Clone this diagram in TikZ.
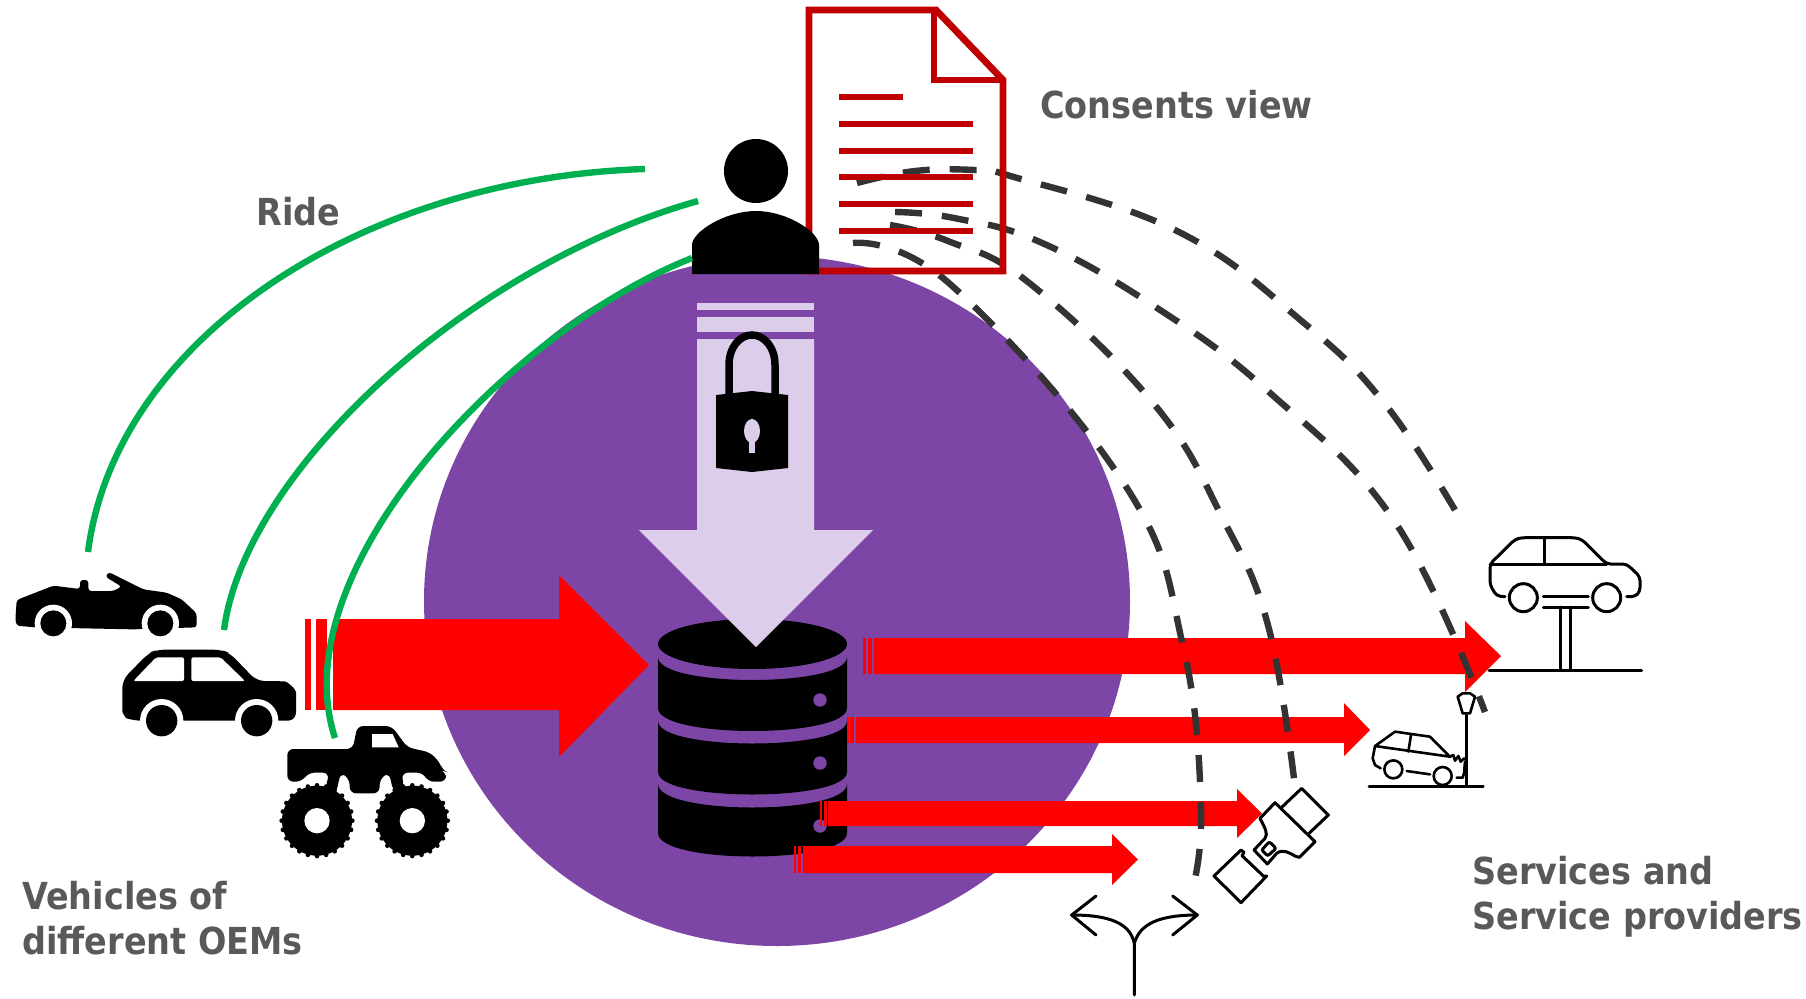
\documentclass[tikz,border=0pt]{standalone}
\usepackage{fontspec}
\setmainfont{DejaVu Sans Condensed}
\definecolor{cpurple}{HTML}{7D46A6}
\definecolor{clilac}{HTML}{DCCEEA}
\definecolor{cgreen}{HTML}{00B050}
\definecolor{cdoc}{HTML}{C00000}
\definecolor{cdash}{HTML}{333333}
\definecolor{ctext}{HTML}{595959}
\tikzset{
  greenarc/.style={draw=cgreen,line width=3.2pt},
  dasharc/.style={draw=cdash,line width=3.2pt,dash pattern=on 13.5pt off 10pt},
  docline/.style={draw=cdoc,line width=3.4pt},
  redshape/.style={fill=red,draw=none},
  lilacshape/.style={fill=clilac,draw=none},
  thinicon/.style={draw=black,line width=1.5pt,line join=round,line cap=round},
  zoomunits/.style={x=0.16667pt,y=-0.16667pt},
  label/.style={text=ctext,font=\fontsize{18.6}{22.5}\selectfont\bfseries,anchor=west,align=left,inner sep=0pt}
}
\newcommand{\dbseg}[3]{\fill[black] (658,#1) .. controls (658,#1+#3*1.333) and (847,#1+#3*1.333) .. (847,#1) -- (847,#2) .. controls (847,#2+#3*1.333) and (658,#2+#3*1.333) .. (658,#2) -- cycle;}
\begin{document}
\begin{tikzpicture}[x=0.5pt,y=-0.5pt]
\useasboundingbox (0,0) rectangle (1806,998);
% big circle
\fill[cpurple] (777,601) ellipse [x radius=353,y radius=345];

% database
\fill[black] (752.5,644) ellipse [x radius=94.5,y radius=25];
\dbseg{657}{708}{23}
\dbseg{721}{772}{22.5}
\dbseg{784}{833}{23.5}
\foreach \yy in {700,763,826} \fill[cpurple] (820,\yy) circle (6.7);

% lilac arrow
\fill[lilacshape] (697,303) rectangle (814,310);
\fill[lilacshape] (697,317) rectangle (814,332);
\fill[lilacshape] (697,339) -- (814,339) -- (814,530) -- (873,530) -- (756,647) -- (639,530) -- (697,530) -- cycle;

% lock
\draw[black,line width=3.75pt] (729,397) -- (729,365) .. controls (729,347) and (740,335) .. (752,335) .. controls (764,335) and (775,347) .. (775,365) -- (775,397);
\fill[black] (716,395) -- (752,391) -- (788,395) -- (788,468) -- (752,472) -- (716,468) -- cycle;
\fill[clilac] (752,431) ellipse [x radius=8,y radius=12];
\fill[clilac] (749,435) rectangle (755,453);

% red arrows
\fill[redshape] (305,619) rectangle (311,710);
\fill[redshape] (316,619) rectangle (327,710);
\fill[redshape] (333,619) -- (559,619) -- (559,575) -- (649,665) -- (559,757) -- (559,710) -- (333,710) -- cycle;

\fill[redshape] (863,638) rectangle (866,674);
\fill[redshape] (868,638) rectangle (872,674);
\fill[redshape] (874,638) -- (1465,638) -- (1465,621) -- (1501,656) -- (1465,692) -- (1465,674) -- (874,674) -- cycle;

\fill[redshape] (847,717) rectangle (849,743);
\fill[redshape] (850,717) rectangle (854,743);
\fill[redshape] (856,717) -- (1344,717) -- (1344,703) -- (1370,730) -- (1344,756) -- (1344,743) -- (856,743) -- cycle;

\fill[redshape] (820,801) rectangle (822,826);
\fill[redshape] (824,801) rectangle (827,826);
\fill[redshape] (828,801) -- (1237,801) -- (1237,789) -- (1262,813.5) -- (1237,838) -- (1237,826) -- (828,826) -- cycle;

\fill[redshape] (794,846) rectangle (796,873);
\fill[redshape] (798,846) rectangle (801,873);
\fill[redshape] (803,846) -- (1112,846) -- (1112,834) -- (1138,859.5) -- (1112,885) -- (1112,873) -- (803,873) -- cycle;

% dashed arcs
\draw[dasharc] plot[smooth,tension=0.7] coordinates {(857,183) (915,171) (975,170) (1007,175) (1177,231) (1304,323) (1385,404) (1455,510)};
\draw[dasharc] plot[smooth,tension=0.7] coordinates {(895,212) (954,218) (1040,242) (1154,306) (1269,392) (1395,522) (1485,712)};
\draw[dasharc] plot[smooth,tension=0.7] coordinates {(890,225) (948,241) (1028,282) (1154,404) (1223,519) (1269,629) (1296,795)};
\draw[dasharc] plot[smooth,tension=0.7] coordinates {(853,243) (950,284) (1125,485) (1183,646) (1201,810) (1191,895)};

% document
\draw[cdoc,line width=3.4pt,miter limit=10] (809,271) -- (809,10) -- (936,10) -- (1003,80) -- (1003,271) -- cycle;
\draw[cdoc,line width=3.4pt] (934,12) -- (934,80) -- (1003,80);
\draw[docline] (839,97) -- (903,97);
\foreach \yy in {124,151,177,204,231} \draw[docline] (839,\yy) -- (973,\yy);

% person
\fill[black] (756,171) circle (32);
\fill[black] (692,274) -- (692,245) .. controls (692,232) and (725,211) .. (756,211) .. controls (787,211) and (819,232) .. (819,245) -- (819,274) -- cycle;

% green arcs
\draw[greenarc] (645,169) .. controls (360,178) and (115,340) .. (88,552);
\draw[greenarc] (698,201) .. controls (470,265) and (245,470) .. (224,630);
\draw[greenarc] (692,258) .. controls (510,330) and (280,570) .. (335,738);

% convertible
\begin{scope}[shift={(0,520)},zoomunits]
\fill[black,rounded corners=1.5pt] (50,240) -- (160,197) -- (240,207) -- (240,180) -- (265,180) -- (265,213) -- (340,213) -- (365,200) -- (316,170) -- (326,156) -- (430,208) -- (500,218) -- (545,238) -- (590,280) -- (590,322) -- (400,328) -- (105,322) -- (50,317) -- (46,300) -- cycle;
\fill[white] (160,310) circle (56);
\fill[white] (481,310) circle (56);
\fill[white] (100,328) rectangle (220,350);
\fill[white] (420,328) rectangle (545,350);
\fill[black] (160,310) circle (39);
\fill[black] (481,310) circle (39);
\end{scope}

% sedan
\begin{scope}[shift={(0,520)},zoomunits]
\fill[black,rounded corners=4pt] (367,480) -- (445,400) -- (470,389) -- (665,389) -- (690,400) -- (770,483) -- (830,483) .. controls (865,485) and (888,510) .. (888,540) -- (888,602) -- (400,602) .. controls (380,595) and (367,580) .. (367,550) -- cycle;
\fill[white] (485,602) circle (65);
\fill[white] (770,602) circle (65);
\fill[white] (400,602) rectangle (860,660);
\fill[black] (485,602) circle (47);
\fill[black] (770,602) circle (47);
\fill[white,rounded corners=1pt] (400,483) -- (468,412) -- (552,412) -- (552,483) -- cycle;
\fill[white,rounded corners=1pt] (574,412) -- (662,412) -- (735,483) -- (574,483) -- cycle;
\end{scope}

% monster truck
\begin{scope}[shift={(0,520)},zoomunits]
\fill[black,rounded corners=3pt] (862,687) -- (1058,687) -- (1072,618) -- (1175,618) -- (1222,682) -- (1290,697) -- (1322,730) -- (1326,752) -- (1338,755) -- (1338,785) -- (1283,785) -- (1270,758) -- (1205,758) -- (1212,805) -- (1180,815) -- (1167,758) -- (1140,775) -- (1138,820) -- (1050,820) -- (1048,775) -- (1022,758) -- (1008,820) -- (975,815) -- (987,758) -- (925,758) -- (905,785) -- (862,785) -- cycle;
\fill[white] (1116,642) -- (1178,642) -- (1196,682) -- (1116,682) -- cycle;
\foreach \cx in {951,1237} {
  \fill[black] (\cx,902) circle (105);
  \foreach \a in {0,15,...,345} \fill[black] ([shift={(\cx,902)}]\a:106) circle (7);
  \fill[white] (\cx,902) circle (38);
}
\end{scope}

% lift car
\begin{scope}[shift={(1340,510)},zoomunits,thinicon]
\draw[rounded corners=2pt] (495,260) -- (470,258) -- (450,225) -- (450,162) -- (525,88) -- (545,83) -- (705,83) -- (725,88) -- (800,162) -- (860,162) -- (900,200) -- (900,245) -- (885,260) -- (860,260);
\draw (450,162) -- (800,162);
\draw (612,85) -- (612,162);
\draw (550,263) circle (42);
\draw (800,263) circle (42);
\draw (610,260) -- (745,260);
\draw (610,291) -- (745,291);
\draw (660,291) -- (660,482);
\draw (692,291) -- (692,482);
\draw (447,482) -- (905,482);
\end{scope}

% crash
\begin{scope}[shift={(1340,510)},zoomunits,thinicon,line width=1.3pt]
\draw (87,829) -- (430,829);
\draw (379,615) -- (379,829);
\draw (353,560) -- (368,550) -- (390,550) -- (405,560) -- (390,610) -- (368,610) -- cycle;
\draw (330,740) -- (270,680) -- (165,665) -- (105,708) -- (330,740);
\draw (213,675) -- (205,725);
\draw (105,708) -- (98,745) -- (105,765) -- (122,775);
\draw (160,778) circle (27);
\draw (308,798) circle (27);
\draw (200,783) -- (270,793);
\draw (330,740) -- (340,735) -- (345,752) -- (355,738) -- (362,755) -- (372,745) -- (378,750);
\draw (375,755) -- (372,790) -- (368,803) -- (350,803);
\end{scope}

% seat belt
\begin{scope}[shift={(1060,770)},zoomunits,thinicon]
\draw (665,112) -- (725,55) -- (805,135) -- (745,192);
\draw (645,98) -- (765,215) -- (718,262) -- (705,258) .. controls (690,250) and (670,235) .. (650,250) -- (622,282) -- (582,240) -- (615,205) .. controls (625,190) and (615,175) .. (600,145) -- cycle;
\draw[rounded corners=1pt] (605,240) -- (628,215) -- (648,235) -- (623,258) -- cycle;
\draw (543,240) -- (552,247) -- (546,257) -- (610,318) -- (620,318) -- (543,398) -- (462,318) -- cycle;
\end{scope}

% fork
\begin{scope}[shift={(1060,770)},zoomunits,thinicon]
\draw (223,675) -- (223,520) .. controls (210,460) and (150,435) .. (35,435);
\draw (223,520) .. controls (240,460) and (300,435) .. (412,435);
\draw (108,378) -- (35,435) -- (108,495);
\draw (338,378) -- (412,435) -- (338,495);
\end{scope}

% labels
\node[label] (consents) at (1040,105) {Consents view};
\node[label] (ride) at (256,212) {Ride};
\node[label] (vehicles) at (22,918) {Vehicles of\\different OEMs};
\node[label] (services) at (1472,897) {Services and\\Service providers};
\end{tikzpicture}
\end{document}
